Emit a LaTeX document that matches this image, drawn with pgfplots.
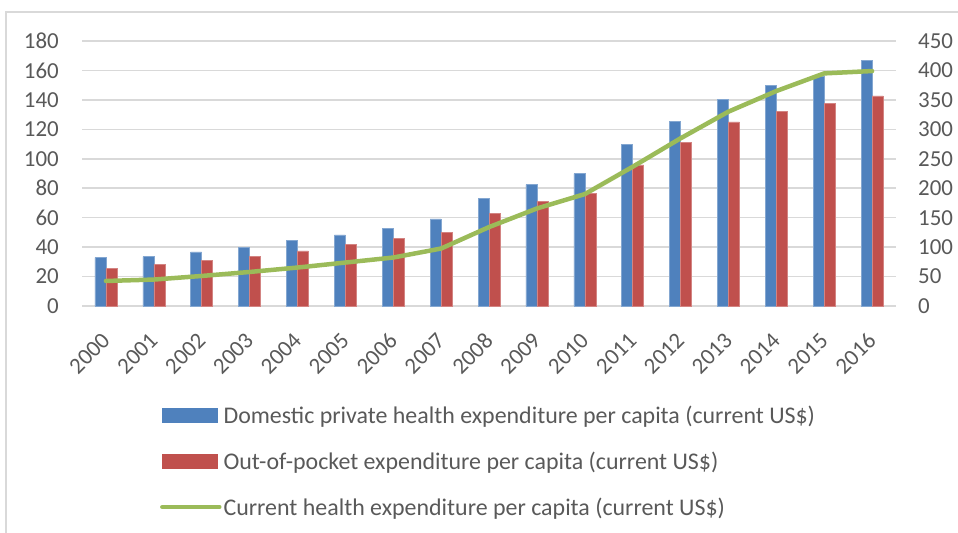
\documentclass[border=0pt]{standalone}
\usepackage{pgfplots}
\pgfplotsset{compat=1.18}
\usepackage{fontspec}
\setmainfont{Carlito}
\definecolor{cblue}{HTML}{4F81BD}
\definecolor{cred}{HTML}{C0504D}
\definecolor{cgreen}{HTML}{9BBB59}
\definecolor{cgrid}{HTML}{D9D9D9}
\definecolor{ctext}{HTML}{595959}
\begin{document}
\begin{tikzpicture}
\useasboundingbox (0,0) rectangle (958bp,-533bp);
\draw[cgrid, line width=1.5bp] (6bp,-533bp) -- (6bp,-12bp) -- (958bp,-12bp);
\begin{axis}[
  at={(82bp,-306bp)}, anchor=south west,
  scale only axis, width=814bp, height=265bp,
  ybar=0pt, bar width=11bp,
  xmin=-0.5, xmax=16.5, ymin=0, ymax=180,
  xtick={0,...,16},
  xticklabels={2000,2001,2002,2003,2004,2005,2006,2007,2008,2009,2010,2011,2012,2013,2014,2015,2016},
  ytick={0,20,...,180},
  /pgf/number format/assume math mode=true,
  axis y line*=left, axis x line*=bottom,
  y axis line style={draw=none},
  x axis line style={cgrid, line width=1.5bp},
  major tick length=0pt,
  ymajorgrids, grid style={cgrid, line width=1.5bp},
  tick label style={font=\fontsize{23}{27}\selectfont, text=ctext},
  yticklabel style={anchor=east, inner sep=0pt, xshift=-23bp},
  xticklabel style={yshift=-31bp, rotate=45, anchor=east, inner sep=0pt},
  legend style={at={(rel axis cs:0.092,-0.36)}, anchor=north west, draw=none, fill=none,
    font=\fontsize{24}{28}\selectfont, text=ctext, row sep=23bp,
    nodes={inner sep=2bp}},
  legend cell align=left,
  clip=false,
]
\addplot[fill=cblue, draw=cblue!70!white, line width=0.5bp,
  legend image code/.code={\fill[cblue] (0bp,-7bp) rectangle (55bp,7bp);}]
  coordinates {(0,32.9)(1,33.6)(2,36.7)(3,39.9)(4,44.5)(5,48.3)(6,52.6)(7,59.2)(8,73.2)(9,82.5)(10,90.0)(11,110.0)(12,125.4)(13,140.6)(14,150.1)(15,156)(16,167)};
\addlegendentry{Domestic private health expenditure per capita (current US\$)}
\addplot[fill=cred, draw=cred!70!white, line width=0.5bp,
  legend image code/.code={\fill[cred] (0bp,-7bp) rectangle (55bp,7bp);}]
  coordinates {(0,25.4)(1,28.2)(2,31.1)(3,33.8)(4,37.4)(5,41.7)(6,45.8)(7,50.1)(8,62.8)(9,71.0)(10,76.4)(11,95.9)(12,111.3)(13,125.1)(14,132.4)(15,137.8)(16,142.8)};
\addlegendentry{Out-of-pocket expenditure per capita (current US\$)}
\addlegendimage{legend image code/.code={\draw[cgreen, line width=4.5bp, line cap=round] (0bp,0bp) -- (57bp,0bp);}}
\addlegendentry{Current health expenditure per capita (current US\$)}
\end{axis}
\begin{axis}[
  at={(82bp,-306bp)}, anchor=south west,
  scale only axis, width=814bp, height=265bp,
  xmin=-0.5, xmax=16.5, ymin=0, ymax=450,
  ytick={0,50,...,450},
  /pgf/number format/assume math mode=true,
  axis y line*=right, hide x axis,
  y axis line style={draw=none},
  major tick length=0pt,
  tick label style={font=\fontsize{23}{27}\selectfont, text=ctext},
  yticklabel style={anchor=west, inner sep=0pt, xshift=22bp},
  clip=false,
]
\addplot[cgreen, line width=4.5bp, line join=round, line cap=round]
  coordinates {(0,42.5)(1,44.9)(2,51)(3,57.8)(4,65.3)(5,73.8)(6,82.3)(7,97.6)(8,134)(9,165.6)(10,190)(11,236.4)(12,284.7)(13,330)(14,365)(15,395)(16,399)};
\end{axis}
\end{tikzpicture}
\end{document}
